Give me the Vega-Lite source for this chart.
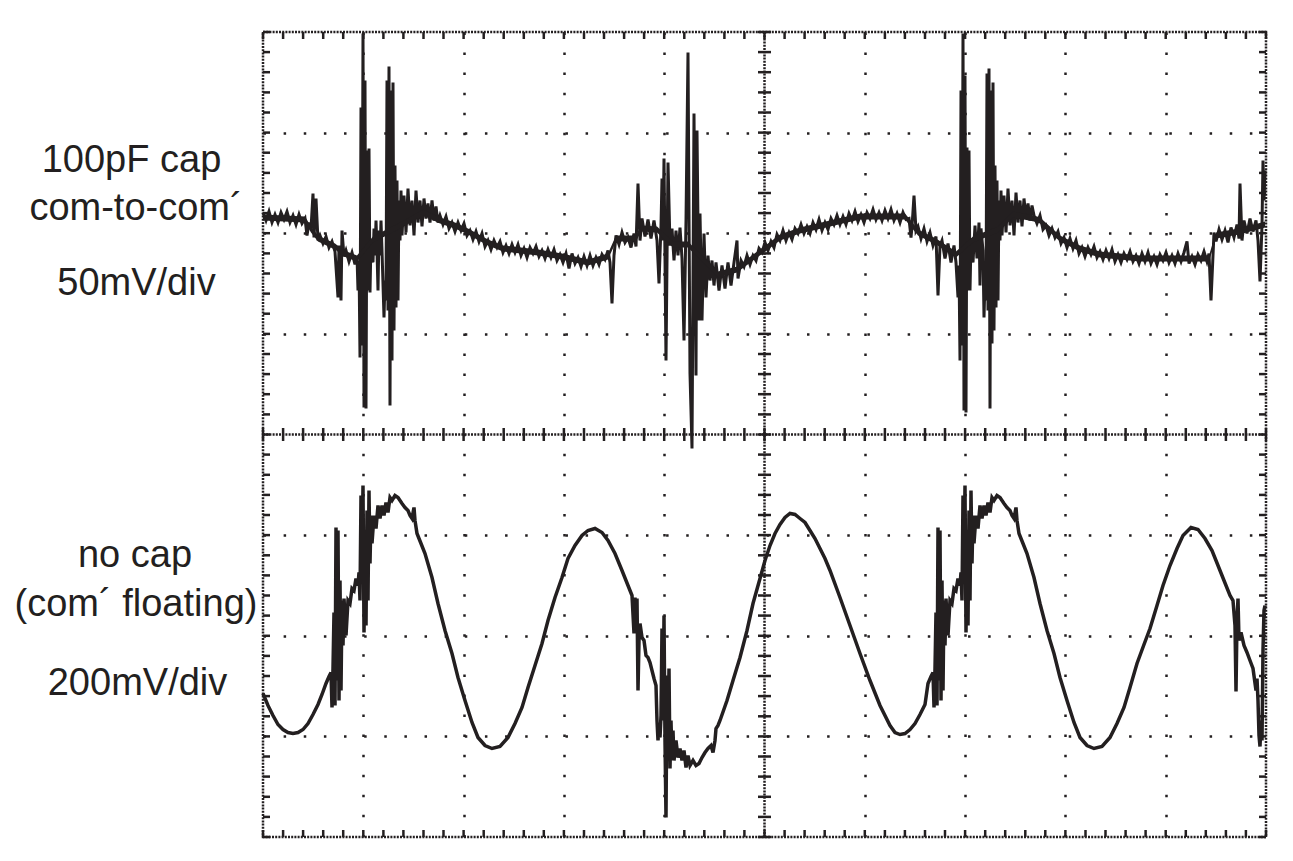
{
"$schema": "https://vega.github.io/schema/vega-lite/v6.json",
"width": 1003, "height": 805,
"autosize": {"type": "none"},
"padding": {"left": 263, "top": 32, "right": 27, "bottom": 24},
"background": "white",
"config": {"view": {"stroke": "#231f20", "strokeWidth": 2.5, "strokeDash": [2, 1.2]}, "font": "Liberation Sans"},
"datasets": {
"top": [
{"t":0,"v":222},{"t":3,"v":214},{"t":6,"v":223},{"t":9,"v":212},{"t":12,"v":220},{"t":15,"v":212},{"t":18,"v":222},{"t":21,"v":215},{"t":24,"v":223},{"t":27,"v":212},{"t":30,"v":219},{"t":33,"v":210},{"t":36,"v":220},{"t":39,"v":211},{"t":42,"v":216},{"t":44,"v":199},{"t":46,"v":212},{"t":48,"v":206},{"t":50,"v":241},{"t":51,"v":197},{"t":53,"v":236},{"t":55,"v":194},{"t":57,"v":199},{"t":60,"v":191},{"t":63,"v":198},{"t":66,"v":187},{"t":69,"v":193},{"t":72,"v":183},{"t":75,"v":137},{"t":76,"v":189},{"t":78,"v":134},{"t":79,"v":204},{"t":81,"v":178},{"t":83,"v":184},{"t":86,"v":173},{"t":89,"v":182},{"t":92,"v":170},{"t":94,"v":178},{"t":95,"v":144},{"t":96,"v":174},{"t":97,"v":77},{"t":98,"v":327},{"t":99,"v":89},{"t":100,"v":401},{"t":101,"v":27},{"t":102,"v":354},{"t":103,"v":26},{"t":104,"v":284},{"t":105,"v":144},{"t":106,"v":286},{"t":107,"v":142},{"t":108,"v":194},{"t":110,"v":172},{"t":111,"v":206},{"t":112,"v":179},{"t":113,"v":214},{"t":114,"v":184},{"t":115,"v":144},{"t":116,"v":204},{"t":117,"v":179},{"t":118,"v":214},{"t":119,"v":184},{"t":121,"v":117},{"t":122,"v":154},{"t":123,"v":134},{"t":124,"v":354},{"t":125,"v":124},{"t":126,"v":368},{"t":127,"v":29},{"t":128,"v":344},{"t":129,"v":74},{"t":130,"v":352},{"t":131,"v":104},{"t":132,"v":269},{"t":133,"v":127},{"t":134,"v":254},{"t":135,"v":134},{"t":136,"v":234},{"t":137,"v":194},{"t":138,"v":244},{"t":139,"v":199},{"t":141,"v":239},{"t":143,"v":202},{"t":145,"v":246},{"t":147,"v":209},{"t":149,"v":234},{"t":151,"v":199},{"t":153,"v":244},{"t":155,"v":212},{"t":157,"v":234},{"t":159,"v":208},{"t":161,"v":236},{"t":163,"v":216},{"t":165,"v":231},{"t":167,"v":212},{"t":169,"v":234},{"t":171,"v":214},{"t":173,"v":228},{"t":175,"v":212},
{"t":177,"v":219},{"t":180,"v":210},{"t":183,"v":218},{"t":186,"v":206},{"t":189,"v":212},{"t":192,"v":203},{"t":195,"v":212},{"t":198,"v":204},{"t":201,"v":211},{"t":204,"v":199},{"t":207,"v":204},{"t":210,"v":195},{"t":213,"v":203},{"t":216,"v":193},{"t":219,"v":201},{"t":222,"v":188},{"t":225,"v":194},{"t":228,"v":185},{"t":231,"v":194},{"t":234,"v":187},{"t":237,"v":193},{"t":240,"v":182},{"t":243,"v":189},{"t":246,"v":181},{"t":249,"v":190},{"t":252,"v":182},{"t":255,"v":190},{"t":258,"v":179},{"t":261,"v":186},{"t":264,"v":177},{"t":267,"v":187},{"t":270,"v":181},{"t":273,"v":188},{"t":276,"v":178},{"t":279,"v":184},{"t":282,"v":176},{"t":285,"v":185},{"t":288,"v":177},{"t":291,"v":185},{"t":294,"v":174},{"t":297,"v":180},{"t":300,"v":172},{"t":303,"v":181},{"t":306,"v":166},{"t":309,"v":181},{"t":312,"v":171},{"t":315,"v":177},{"t":318,"v":168},{"t":321,"v":178},{"t":324,"v":169},{"t":327,"v":179},{"t":330,"v":169},{"t":333,"v":177},{"t":336,"v":170},{"t":339,"v":180},{"t":342,"v":175},{"t":345,"v":184},
{"t":347,"v":172},{"t":349,"v":131},{"t":351,"v":179},{"t":353,"v":199},{"t":356,"v":190},{"t":359,"v":202},{"t":362,"v":192},{"t":365,"v":197},{"t":368,"v":187},{"t":371,"v":201},{"t":373,"v":188},{"t":375,"v":251},{"t":377,"v":194},{"t":379,"v":216},{"t":382,"v":198},{"t":385,"v":215},{"t":388,"v":196},{"t":391,"v":214},{"t":394,"v":194},{"t":396,"v":151},{"t":398,"v":209},{"t":399,"v":256},{"t":400,"v":194},{"t":401,"v":276},{"t":403,"v":74},{"t":405,"v":272},{"t":407,"v":189},{"t":409,"v":206},{"t":411,"v":174},{"t":413,"v":204},{"t":415,"v":179},{"t":417,"v":207},{"t":419,"v":176},{"t":421,"v":94},{"t":423,"v":214},{"t":425,"v":382},{"t":427,"v":61},{"t":429,"v":-14},{"t":431,"v":321},{"t":433,"v":59},{"t":434,"v":304},{"t":436,"v":114},{"t":437,"v":221},{"t":439,"v":114},{"t":441,"v":201},{"t":443,"v":137},{"t":445,"v":179},{"t":447,"v":154},{"t":449,"v":174},{"t":451,"v":149},{"t":453,"v":172},{"t":456,"v":144},{"t":459,"v":169},{"t":462,"v":146},{"t":465,"v":172},{"t":468,"v":149},{"t":471,"v":172},{"t":474,"v":194},{"t":475,"v":156},
{"t":478,"v":174},{"t":481,"v":168},{"t":484,"v":179},{"t":487,"v":170},{"t":490,"v":179},{"t":493,"v":174},{"t":496,"v":186},{"t":499,"v":182},{"t":502,"v":192},{"t":505,"v":184},{"t":508,"v":193},{"t":511,"v":187},{"t":514,"v":200},{"t":517,"v":194},{"t":520,"v":204},{"t":523,"v":194},{"t":526,"v":202},{"t":529,"v":195},{"t":532,"v":206},{"t":535,"v":201},{"t":538,"v":210},{"t":541,"v":201},{"t":544,"v":208},{"t":547,"v":201},{"t":550,"v":212},{"t":553,"v":205},{"t":556,"v":215},{"t":559,"v":204},{"t":562,"v":212},{"t":565,"v":205},{"t":568,"v":216},{"t":571,"v":210},{"t":574,"v":219},{"t":577,"v":210},{"t":580,"v":218},{"t":583,"v":210},{"t":586,"v":221},{"t":589,"v":214},{"t":592,"v":223},{"t":595,"v":213},{"t":598,"v":220},{"t":601,"v":212},{"t":604,"v":222},{"t":607,"v":216},{"t":610,"v":225},{"t":613,"v":215},{"t":616,"v":222},{"t":619,"v":214},{"t":622,"v":224},{"t":625,"v":216},{"t":628,"v":225},{"t":631,"v":214},{"t":634,"v":221},{"t":637,"v":212},{"t":640,"v":222},{"t":643,"v":215},
{"t":646,"v":216},{"t":648,"v":197},{"t":649,"v":208},{"t":651,"v":239},{"t":653,"v":204},{"t":655,"v":208},{"t":658,"v":196},{"t":661,"v":206},{"t":664,"v":193},{"t":667,"v":202},{"t":670,"v":189},{"t":673,"v":198},{"t":675,"v":139},{"t":677,"v":189},{"t":679,"v":194},{"t":682,"v":176},{"t":685,"v":191},{"t":688,"v":172},{"t":691,"v":189},{"t":693,"v":172},{"t":695,"v":137},{"t":696,"v":169},{"t":697,"v":74},{"t":698,"v":344},{"t":699,"v":89},{"t":700,"v":401},{"t":701,"v":24},{"t":702,"v":359},{"t":703,"v":22},{"t":704,"v":287},{"t":705,"v":144},{"t":706,"v":284},{"t":707,"v":144},{"t":708,"v":194},{"t":710,"v":172},{"t":712,"v":209},{"t":714,"v":176},{"t":716,"v":212},{"t":717,"v":149},{"t":718,"v":206},{"t":720,"v":184},{"t":721,"v":117},{"t":722,"v":154},{"t":723,"v":134},{"t":724,"v":361},{"t":725,"v":124},{"t":726,"v":366},{"t":727,"v":26},{"t":728,"v":344},{"t":729,"v":91},{"t":730,"v":352},{"t":731,"v":104},{"t":732,"v":269},{"t":733,"v":127},{"t":734,"v":254},{"t":735,"v":134},{"t":736,"v":234},{"t":737,"v":194},{"t":738,"v":244},{"t":739,"v":199},{"t":741,"v":239},{"t":743,"v":202},{"t":745,"v":246},{"t":747,"v":209},{"t":749,"v":234},{"t":751,"v":199},{"t":753,"v":242},{"t":755,"v":212},{"t":757,"v":234},{"t":759,"v":208},{"t":761,"v":236},{"t":763,"v":216},{"t":765,"v":231},{"t":767,"v":214},{"t":769,"v":229},
{"t":771,"v":219},{"t":774,"v":211},{"t":777,"v":219},{"t":780,"v":205},{"t":783,"v":209},{"t":786,"v":199},{"t":789,"v":206},{"t":792,"v":197},{"t":795,"v":203},{"t":798,"v":191},{"t":801,"v":197},{"t":804,"v":187},{"t":807,"v":196},{"t":810,"v":186},{"t":813,"v":194},{"t":816,"v":181},{"t":819,"v":187},{"t":822,"v":178},{"t":825,"v":187},{"t":828,"v":180},{"t":831,"v":188},{"t":834,"v":177},{"t":837,"v":183},{"t":840,"v":175},{"t":843,"v":184},{"t":846,"v":176},{"t":849,"v":185},{"t":852,"v":173},{"t":855,"v":180},{"t":858,"v":172},{"t":861,"v":181},{"t":864,"v":175},{"t":867,"v":183},{"t":870,"v":173},{"t":873,"v":179},{"t":876,"v":171},{"t":879,"v":181},{"t":882,"v":173},{"t":885,"v":182},{"t":888,"v":171},{"t":891,"v":178},{"t":894,"v":170},{"t":897,"v":180},{"t":900,"v":174},{"t":903,"v":182},{"t":906,"v":172},{"t":909,"v":179},{"t":912,"v":171},{"t":915,"v":181},{"t":918,"v":173},{"t":921,"v":182},{"t":924,"v":193},{"t":926,"v":171},{"t":929,"v":178},{"t":932,"v":170},{"t":935,"v":180},{"t":938,"v":174},{"t":941,"v":183},{"t":944,"v":173},{"t":946,"v":181},
{"t":948,"v":134},{"t":950,"v":179},{"t":951,"v":202},{"t":953,"v":193},{"t":956,"v":205},{"t":959,"v":195},{"t":962,"v":204},{"t":965,"v":192},{"t":968,"v":207},{"t":971,"v":197},{"t":974,"v":210},{"t":976,"v":196},{"t":977,"v":251},{"t":979,"v":194},{"t":981,"v":214},{"t":984,"v":201},{"t":987,"v":216},{"t":990,"v":203},{"t":993,"v":214},{"t":995,"v":194},{"t":997,"v":153},{"t":999,"v":209},{"t":1000,"v":274},{"t":1001,"v":234},{"t":1002,"v":264}
],
"topband": [
{"t":0,"lo":214,"hi":220},{"t":42,"lo":212,"hi":218},{"t":48,"lo":202,"hi":208},{"t":55,"lo":193,"hi":199},{"t":72,"lo":185,"hi":191},{"t":81,"lo":178,"hi":184},{"t":94,"lo":173,"hi":179},{"t":110,"lo":192,"hi":198},{"t":139,"lo":207,"hi":213},{"t":160,"lo":219,"hi":225},{"t":177,"lo":211,"hi":217},{"t":192,"lo":206,"hi":212},{"t":205,"lo":200,"hi":206},{"t":225,"lo":189,"hi":195},{"t":240,"lo":183,"hi":189},{"t":275,"lo":179,"hi":185},{"t":299,"lo":175,"hi":181},{"t":325,"lo":169,"hi":175},{"t":345,"lo":175,"hi":181},{"t":353,"lo":193,"hi":199},{"t":373,"lo":193,"hi":199},{"t":378,"lo":203,"hi":209},{"t":394,"lo":202,"hi":208},{"t":410,"lo":187,"hi":193},{"t":425,"lo":187,"hi":193},{"t":440,"lo":172,"hi":178},{"t":455,"lo":157,"hi":163},{"t":474,"lo":162,"hi":168},{"t":517,"lo":194,"hi":200},{"t":537,"lo":201,"hi":207},{"t":597,"lo":215,"hi":221},{"t":642,"lo":215,"hi":221},{"t":655,"lo":199,"hi":205},{"t":673,"lo":190,"hi":196},{"t":693,"lo":177,"hi":183},{"t":710,"lo":192,"hi":198},{"t":735,"lo":202,"hi":208},{"t":750,"lo":217,"hi":223},{"t":771,"lo":213,"hi":219},{"t":777,"lo":211,"hi":217},{"t":797,"lo":193,"hi":199},{"t":817,"lo":183,"hi":189},{"t":837,"lo":177,"hi":183},{"t":877,"lo":173,"hi":179},{"t":946,"lo":173,"hi":179},{"t":953,"lo":196,"hi":202},{"t":976,"lo":200,"hi":206},{"t":995,"lo":205,"hi":211},{"t":1002,"lo":207,"hi":213}
],
"bottom": [
{"t":0,"v":-259},{"t":5,"v":-271},{"t":10,"v":-281},{"t":15,"v":-290},{"t":20,"v":-295},{"t":25,"v":-298},{"t":30,"v":-299},{"t":35,"v":-298},{"t":40,"v":-295},{"t":45,"v":-289},{"t":50,"v":-280},{"t":55,"v":-270},{"t":59,"v":-260},{"t":63,"v":-249},{"t":66,"v":-242},{"t":68,"v":-238},{"t":69,"v":-273},{"t":70,"v":-234},{"t":71,"v":-178},{"t":72,"v":-271},{"t":73,"v":-93},{"t":74,"v":-246},{"t":75,"v":-96},{"t":76,"v":-266},{"t":77,"v":-146},{"t":78,"v":-256},{"t":79,"v":-166},{"t":80,"v":-211},{"t":81,"v":-164},{"t":83,"v":-201},{"t":85,"v":-166},{"t":87,"v":-169},{"t":89,"v":-154},{"t":91,"v":-156},{"t":93,"v":-144},{"t":95,"v":-151},{"t":96,"v":-138},{"t":97,"v":-166},{"t":98,"v":-61},{"t":99,"v":-126},{"t":100,"v":-51},{"t":101,"v":-198},{"t":102,"v":-96},{"t":103,"v":-191},{"t":104,"v":-76},{"t":105,"v":-166},{"t":106,"v":-56},{"t":107,"v":-129},{"t":108,"v":-81},{"t":109,"v":-109},{"t":111,"v":-81},{"t":113,"v":-94},{"t":115,"v":-71},{"t":117,"v":-84},{"t":119,"v":-71},{"t":121,"v":-81},{"t":123,"v":-68},{"t":125,"v":-78},{"t":127,"v":-63},{"t":129,"v":-66},{"t":132,"v":-61},{"t":135,"v":-63},{"t":139,"v":-69},{"t":142,"v":-73},{"t":145,"v":-76},{"t":147,"v":-81},{"t":149,"v":-84},{"t":151,"v":-73},{"t":152,"v":-86},{"t":154,"v":-99},{"t":156,"v":-104},{"t":158,"v":-109},{"t":162,"v":-119},{"t":169,"v":-143},{"t":175,"v":-169},{"t":182,"v":-196},{"t":189,"v":-219},{"t":195,"v":-243},{"t":202,"v":-266},{"t":209,"v":-288},{"t":215,"v":-303},{"t":222,"v":-311},{"t":229,"v":-314},{"t":237,"v":-312},{"t":245,"v":-303},{"t":252,"v":-289},{"t":259,"v":-273},{"t":265,"v":-253},{"t":272,"v":-231},{"t":279,"v":-209},{"t":285,"v":-186},{"t":292,"v":-163},{"t":299,"v":-143},{"t":305,"v":-124},{"t":312,"v":-111},{"t":319,"v":-101},{"t":325,"v":-96},{"t":332,"v":-94},{"t":339,"v":-98},{"t":345,"v":-106},{"t":352,"v":-119},{"t":359,"v":-136},{"t":365,"v":-151},{"t":369,"v":-161},{"t":371,"v":-199},{"t":372,"v":-163},{"t":373,"v":-191},{"t":374,"v":-164},{"t":375,"v":-256},{"t":376,"v":-206},{"t":377,"v":-189},{"t":379,"v":-203},{"t":381,"v":-206},{"t":383,"v":-221},{"t":385,"v":-223},{"t":387,"v":-228},{"t":389,"v":-236},{"t":391,"v":-244},{"t":393,"v":-251},{"t":394,"v":-286},{"t":395,"v":-306},{"t":396,"v":-291},{"t":397,"v":-303},{"t":398,"v":-281},{"t":399,"v":-194},{"t":400,"v":-286},{"t":401,"v":-181},{"t":402,"v":-306},{"t":403,"v":-383},{"t":404,"v":-241},{"t":405,"v":-306},{"t":406,"v":-234},{"t":407,"v":-334},{"t":408,"v":-286},{"t":409,"v":-326},{"t":410,"v":-296},{"t":411,"v":-326},{"t":413,"v":-306},{"t":415,"v":-323},{"t":417,"v":-314},{"t":419,"v":-326},{"t":421,"v":-316},{"t":423,"v":-333},{"t":425,"v":-321},{"t":427,"v":-331},{"t":430,"v":-326},{"t":433,"v":-331},{"t":436,"v":-329},{"t":439,"v":-323},{"t":442,"v":-318},{"t":445,"v":-314},{"t":448,"v":-311},{"t":450,"v":-318},{"t":452,"v":-306},{"t":453,"v":-294},{"t":455,"v":-291},{"t":457,"v":-286},{"t":464,"v":-266},{"t":470,"v":-246},{"t":477,"v":-223},{"t":484,"v":-196},{"t":490,"v":-169},{"t":497,"v":-144},{"t":502,"v":-126},{"t":507,"v":-111},{"t":512,"v":-99},{"t":517,"v":-90},{"t":522,"v":-83},{"t":527,"v":-79},{"t":532,"v":-80},{"t":537,"v":-84},{"t":542,"v":-88},{"t":547,"v":-96},{"t":552,"v":-104},{"t":557,"v":-114},{"t":562,"v":-124},{"t":567,"v":-136},{"t":577,"v":-163},{"t":587,"v":-191},{"t":597,"v":-219},{"t":607,"v":-246},{"t":617,"v":-271},{"t":627,"v":-291},{"t":632,"v":-298},{"t":637,"v":-300},{"t":642,"v":-299},{"t":647,"v":-295},{"t":652,"v":-289},{"t":657,"v":-280},{"t":662,"v":-270},{"t":665,"v":-249},{"t":668,"v":-242},{"t":670,"v":-238},{"t":671,"v":-273},{"t":672,"v":-234},{"t":673,"v":-178},{"t":674,"v":-271},{"t":675,"v":-93},{"t":676,"v":-246},{"t":677,"v":-96},{"t":678,"v":-266},{"t":679,"v":-146},{"t":680,"v":-256},{"t":681,"v":-166},{"t":682,"v":-211},{"t":683,"v":-164},{"t":685,"v":-201},{"t":687,"v":-166},{"t":689,"v":-169},{"t":691,"v":-154},{"t":693,"v":-156},{"t":695,"v":-144},{"t":697,"v":-151},{"t":698,"v":-138},{"t":699,"v":-166},{"t":700,"v":-61},{"t":701,"v":-126},{"t":702,"v":-51},{"t":703,"v":-198},{"t":704,"v":-96},{"t":705,"v":-191},{"t":706,"v":-76},{"t":707,"v":-166},{"t":708,"v":-56},{"t":709,"v":-129},{"t":710,"v":-81},{"t":711,"v":-109},{"t":713,"v":-81},{"t":715,"v":-94},{"t":717,"v":-71},{"t":719,"v":-84},{"t":721,"v":-71},{"t":723,"v":-81},{"t":725,"v":-68},{"t":727,"v":-78},{"t":729,"v":-63},{"t":731,"v":-66},{"t":734,"v":-61},{"t":737,"v":-63},{"t":741,"v":-69},{"t":744,"v":-73},{"t":747,"v":-76},{"t":749,"v":-81},{"t":751,"v":-84},{"t":753,"v":-73},{"t":754,"v":-86},{"t":756,"v":-99},{"t":758,"v":-104},{"t":760,"v":-109},{"t":764,"v":-119},{"t":771,"v":-143},{"t":777,"v":-169},{"t":784,"v":-196},{"t":791,"v":-219},{"t":797,"v":-243},{"t":804,"v":-266},{"t":811,"v":-288},{"t":817,"v":-303},{"t":824,"v":-311},{"t":831,"v":-314},{"t":839,"v":-312},{"t":847,"v":-303},{"t":854,"v":-289},{"t":861,"v":-273},{"t":867,"v":-253},{"t":874,"v":-229},{"t":881,"v":-210},{"t":887,"v":-194},{"t":894,"v":-171},{"t":900,"v":-151},{"t":907,"v":-131},{"t":914,"v":-114},{"t":920,"v":-101},{"t":928,"v":-93},{"t":935,"v":-95},{"t":942,"v":-104},{"t":949,"v":-116},{"t":955,"v":-131},{"t":961,"v":-146},{"t":967,"v":-161},{"t":970,"v":-166},{"t":972,"v":-191},{"t":973,"v":-257},{"t":974,"v":-186},{"t":975,"v":-164},{"t":976,"v":-206},{"t":978,"v":-198},{"t":981,"v":-211},{"t":984,"v":-218},{"t":987,"v":-226},{"t":990,"v":-234},{"t":993,"v":-256},{"t":994,"v":-244},{"t":995,"v":-266},{"t":996,"v":-301},{"t":997,"v":-312},{"t":998,"v":-286},{"t":999,"v":-306},{"t":1000,"v":-216},{"t":1001,"v":-176},{"t":1002,"v":-171}
],
"xminor": [{"t":0},{"t":20.1},{"t":40.1},{"t":60.2},{"t":80.2},{"t":100.3},{"t":120.4},{"t":140.4},{"t":160.5},{"t":180.5},{"t":200.6},{"t":220.7},{"t":240.7},{"t":260.8},{"t":280.8},{"t":300.9},{"t":321},{"t":341},{"t":361.1},{"t":381.1},{"t":401.2},{"t":421.3},{"t":441.3},{"t":461.4},{"t":481.4},{"t":501.5},{"t":521.6},{"t":541.6},{"t":561.7},{"t":581.7},{"t":601.8},{"t":621.9},{"t":641.9},{"t":662},{"t":682},{"t":702.1},{"t":722.2},{"t":742.2},{"t":762.3},{"t":782.3},{"t":802.4},{"t":822.5},{"t":842.5},{"t":862.6},{"t":882.6},{"t":902.7},{"t":922.8},{"t":942.8},{"t":962.9},{"t":982.9},{"t":1003}],
"yminor": [{"v":-402.5},{"v":-382.4},{"v":-362.3},{"v":-342.1},{"v":-322},{"v":-301.9},{"v":-281.8},{"v":-261.6},{"v":-241.5},{"v":-221.4},{"v":-201.3},{"v":-181.1},{"v":-161},{"v":-140.9},{"v":-120.8},{"v":-100.6},{"v":-80.5},{"v":-60.4},{"v":-40.3},{"v":-20.1},{"v":0},{"v":20.1},{"v":40.3},{"v":60.4},{"v":80.5},{"v":100.6},{"v":120.8},{"v":140.9},{"v":161},{"v":181.1},{"v":201.3},{"v":221.4},{"v":241.5},{"v":261.6},{"v":281.8},{"v":301.9},{"v":322},{"v":342.1},{"v":362.3},{"v":382.4},{"v":402.5}],
"labels": [
{"label":"100pF cap","t":-131.5,"v":262.8},
{"label":"com-to-com´","t":-127,"v":214.5},
{"label":"50mV/div","t":-126.5,"v":139.5},
{"label":"no cap","t":-128,"v":-132.2},
{"label":"(com´ floating)","t":-127,"v":-181.5},
{"label":"200mV/div","t":-125.5,"v":-260.5}
]
},
"layer": [
{
"data": {"name": "top"},
"mark": {"type": "line", "color": "#231f20", "strokeWidth": 3, "interpolate": "linear"},
"encoding": {
"x": {"field": "t", "type": "quantitative", "scale": {"domain": [0, 1003], "nice": false, "zero": false},
"axis": {"values": [100.3, 200.6, 300.9, 401.2, 601.8, 702.1, 802.4, 902.7], "grid": true, "gridDash": [2.5, 17.56], "gridWidth": 2.5, "gridColor": "#231f20", "gridOpacity": 1, "ticks": false, "labels": false, "domain": false, "title": null}},
"y": {"field": "v", "type": "quantitative", "scale": {"domain": [-402.5, 402.5], "nice": false, "zero": false},
"axis": {"values": [-301.9, -201.3, -100.6, 100.6, 201.3, 301.9], "grid": true, "gridDash": [2.5, 17.63], "gridWidth": 2.5, "gridColor": "#231f20", "gridOpacity": 1, "ticks": false, "labels": false, "domain": false, "title": null}},
"order": {"value": null}
}
},
{
"data": {"name": "topband"},
"mark": {"type": "area", "color": "#231f20", "opacity": 1, "interpolate": "linear"},
"encoding": {
"x": {"field": "t", "type": "quantitative"},
"y": {"field": "lo", "type": "quantitative"},
"y2": {"field": "hi"}
}
},
{
"data": {"name": "bottom"},
"mark": {"type": "line", "color": "#231f20", "strokeWidth": 3.5, "interpolate": "linear"},
"encoding": {
"x": {"field": "t", "type": "quantitative"},
"y": {"field": "v", "type": "quantitative"},
"order": {"value": null}
}
},
{
"data": {"values": [{}]},
"mark": {"type": "rule", "color": "#231f20", "strokeWidth": 2.5, "strokeDash": [2, 1.2]},
"encoding": {"x": {"datum": 501.5, "type": "quantitative"}, "y": {"datum": 402.5, "type": "quantitative"}, "y2": {"datum": -402.5}}
},
{
"data": {"values": [{}]},
"mark": {"type": "rule", "color": "#231f20", "strokeWidth": 2.5, "strokeDash": [2, 1.2]},
"encoding": {"x": {"datum": 0, "type": "quantitative"}, "x2": {"datum": 1003}, "y": {"datum": 0, "type": "quantitative"}}
},
{
"data": {"name": "xminor"},
"mark": {"type": "rule", "color": "#231f20", "strokeWidth": 2.5},
"encoding": {"x": {"field": "t", "type": "quantitative"}, "y": {"datum": -6.5, "type": "quantitative"}, "y2": {"datum": 6.5}}
},
{
"data": {"name": "yminor"},
"mark": {"type": "rule", "color": "#231f20", "strokeWidth": 2.5},
"encoding": {"y": {"field": "v", "type": "quantitative"}, "x": {"datum": 495, "type": "quantitative"}, "x2": {"datum": 508}}
},
{
"data": {"name": "xminor"},
"mark": {"type": "rule", "color": "#231f20", "strokeWidth": 2.5},
"encoding": {"x": {"field": "t", "type": "quantitative"}, "y": {"datum": -402.5, "type": "quantitative"}, "y2": {"datum": -395.5}}
},
{
"data": {"name": "xminor"},
"mark": {"type": "rule", "color": "#231f20", "strokeWidth": 2.5},
"encoding": {"x": {"field": "t", "type": "quantitative"}, "y": {"datum": 402.5, "type": "quantitative"}, "y2": {"datum": 395.5}}
},
{
"data": {"name": "yminor"},
"mark": {"type": "rule", "color": "#231f20", "strokeWidth": 2.5},
"encoding": {"y": {"field": "v", "type": "quantitative"}, "x": {"datum": 0, "type": "quantitative"}, "x2": {"datum": 7}}
},
{
"data": {"name": "yminor"},
"mark": {"type": "rule", "color": "#231f20", "strokeWidth": 2.5},
"encoding": {"y": {"field": "v", "type": "quantitative"}, "x": {"datum": 1003, "type": "quantitative"}, "x2": {"datum": 996}}
},
{
"data": {"name": "labels"},
"mark": {"type": "text", "color": "#231f20", "fontSize": 38, "font": "Liberation Sans", "align": "center", "baseline": "alphabetic"},
"encoding": {"x": {"field": "t", "type": "quantitative"}, "y": {"field": "v", "type": "quantitative"}, "text": {"field": "label"}}
}
]
}
